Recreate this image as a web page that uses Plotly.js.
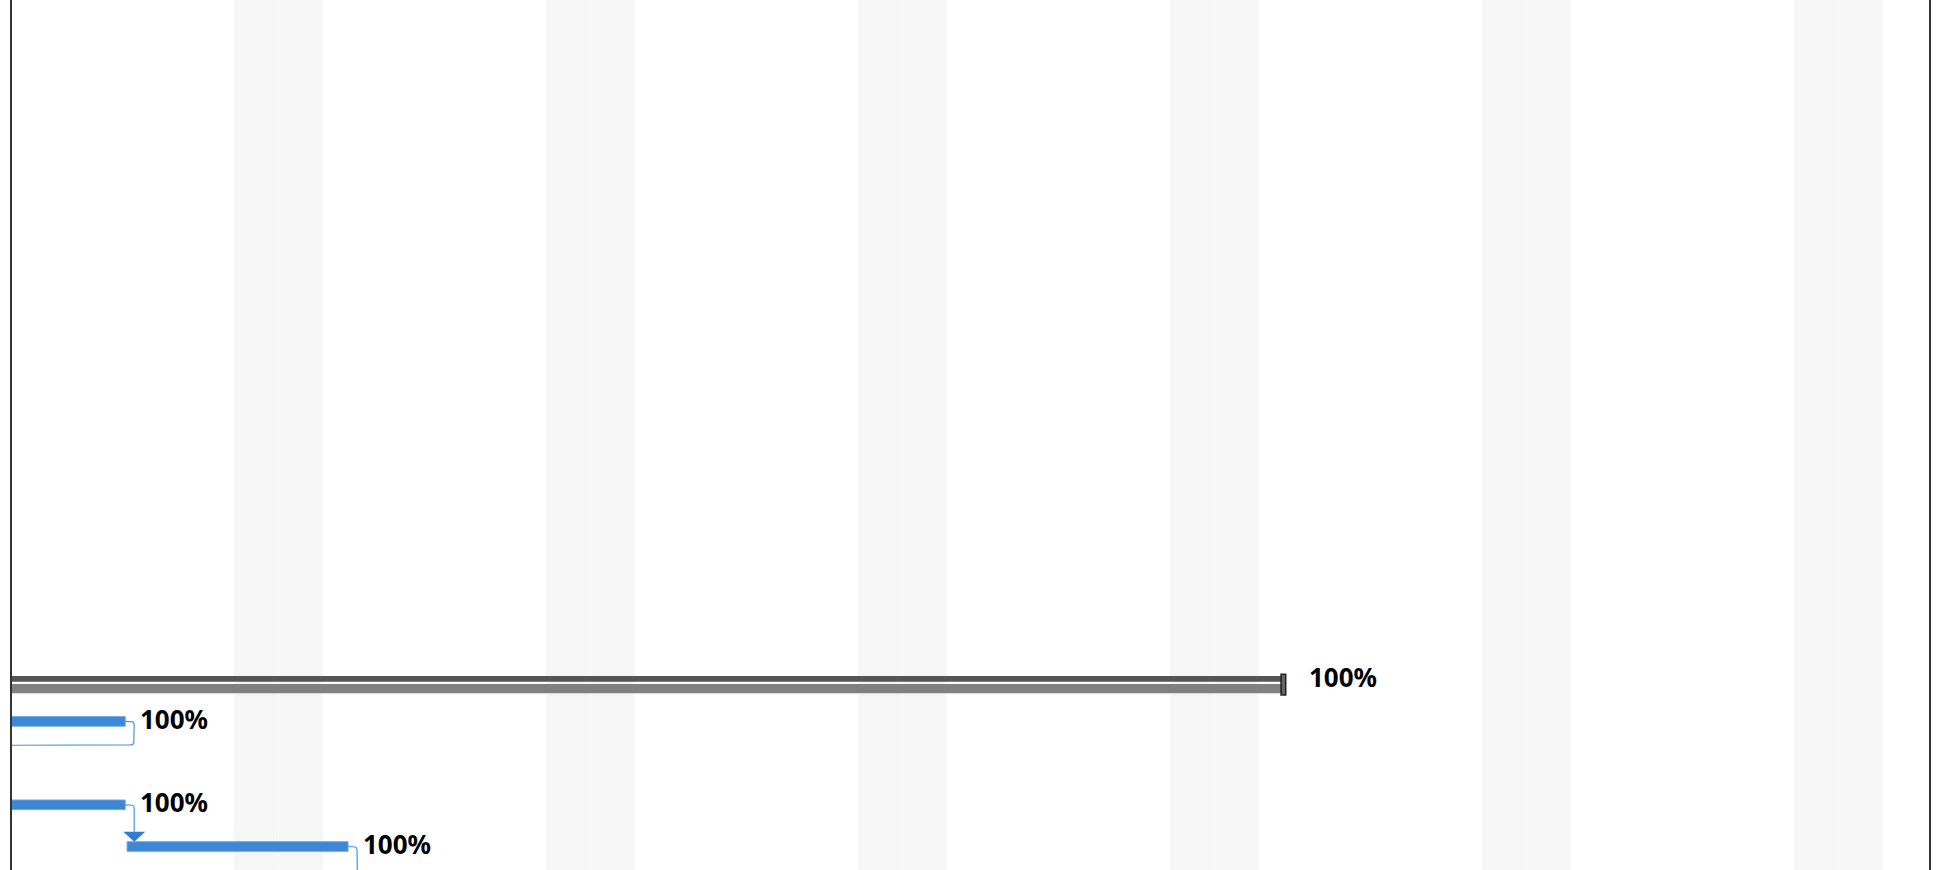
<!DOCTYPE html>
<html>
<head>
<meta charset="utf-8">
<script src="https://cdn.plot.ly/plotly-3.0.1.min.js"></script>
<style>
html,body{margin:0;padding:0;background:#fff;overflow:hidden;}
#chart{width:1950px;height:870px;}
</style>
</head>
<body>
<div id="chart"></div>
<script>
// ---------------- DATA ----------------
const summaryRows = [16];
const summaryStarts = ['2023-12-11 08:00'];
const summaryEnds = ['2024-01-29 13:30'];
const summaryProgress = [100];

const taskRows = [17, 18, 19, 20, 21];
const taskStarts = ['2023-12-27 13:30', '2023-12-21 08:00', '2023-12-27 13:30', '2024-01-03 14:30', '2024-01-09 08:00'];
const taskEnds = ['2024-01-03 13:30', '2023-12-29 17:00', '2024-01-03 13:30', '2024-01-08 13:30', '2024-01-12 17:00'];
const taskProgress = [100, 100, 100, 100, 0];
const links = [[0, 1], [2, 3], [3, 4]];

// ---------------- SCALES / STYLE ----------------
const MS_H = 3600e3, MS_D = 864e5;
const DAY_PX = 44.571, ROW_PX = 41.7;
const msPerPx = MS_D / DAY_PX, rowPerPx = 1 / ROW_PX;
const X_RANGE = ['2024-01-01 00:32:18', '2024-02-13 00:47:30'];
const Y_RANGE = [20.563, -0.300];
const TASK_OFF = -0.115, TASK_W = 0.23;
const BLUE = '#3c87d6', LINK = '#4a92e4', ARROW = '#2f7dd6';

const toMs = s => Date.parse(s.replace(' ', 'T') + (s.length === 16 ? ':00Z' : 'Z'));
const toStr = ms => new Date(ms).toISOString().replace('T', ' ').replace('Z', '');
const dur = (a, b) => a.map((s, i) => toMs(b[i]) - toMs(s));

const traces = [];

// summary bar: gray band + dark band + end cap
traces.push({
  type: 'bar', orientation: 'h', y: summaryRows, base: summaryStarts,
  x: dur(summaryStarts, summaryEnds), offset: 0.103, width: 0.223,
  marker: {color: '#808080', line: {width: 0}}, hoverinfo: 'skip'
});
traces.push({
  type: 'bar', orientation: 'h', y: summaryRows, base: summaryStarts,
  x: dur(summaryStarts, summaryEnds), offset: -0.089, width: 0.137,
  marker: {color: '#555555', line: {width: 0}}, hoverinfo: 'skip'
});
traces.push({
  type: 'bar', orientation: 'h', y: summaryRows,
  base: summaryEnds.map(s => toStr(toMs(s) - 1.6 * MS_H)),
  x: summaryEnds.map(() => 2.5 * MS_H), offset: -0.129, width: 0.496,
  marker: {color: '#666666', line: {width: 1.5, color: '#222222'}}, hoverinfo: 'skip'
});

// task bars
traces.push({
  type: 'bar', orientation: 'h', y: taskRows, base: taskStarts,
  x: dur(taskStarts, taskEnds), offset: TASK_OFF, width: TASK_W,
  marker: {color: BLUE, line: {width: 1, color: '#6aa5e6'}}, hoverinfo: 'skip'
});

// link connectors
function roundCorners(pts, r) {
  const P = pts.map(p => [p[0] / msPerPx, p[1] / rowPerPx]);
  const out = [P[0]];
  for (let i = 1; i < P.length - 1; i++) {
    const p0 = P[i - 1], p1 = P[i], p2 = P[i + 1];
    const l1 = Math.hypot(p1[0] - p0[0], p1[1] - p0[1]);
    const l2 = Math.hypot(p2[0] - p1[0], p2[1] - p1[1]);
    const rr = Math.min(r, l1 / 2, l2 / 2);
    if (rr <= 0) { out.push(p1); continue; }
    const a = [p1[0] - (p1[0] - p0[0]) / l1 * rr, p1[1] - (p1[1] - p0[1]) / l1 * rr];
    const b = [p1[0] + (p2[0] - p1[0]) / l2 * rr, p1[1] + (p2[1] - p1[1]) / l2 * rr];
    for (let k = 0; k <= 6; k++) {
      const t = k / 6, u = 1 - t;
      out.push([u * u * a[0] + 2 * u * t * p1[0] + t * t * b[0], u * u * a[1] + 2 * u * t * p1[1] + t * t * b[1]]);
    }
  }
  out.push(P[P.length - 1]);
  return out.map(p => [p[0] * msPerPx, p[1] * rowPerPx]);
}

const GAP = 9 * msPerPx;
links.forEach(([a, b]) => {
  const xe = toMs(taskEnds[a]), ra = taskRows[a];
  const xs = toMs(taskStarts[b]), xf = toMs(taskEnds[b]), rb = taskRows[b];
  const xc = xe + GAP;
  const pts = [[xe, ra], [xc, ra]];
  let arrow;
  const barTop = rb + TASK_OFF;
  if (xc >= xs && xc <= xf && rb > ra) {
    const h = 10 * rowPerPx;
    pts.push([xc, barTop - h]);
    arrow = [[xc - 11 * msPerPx, barTop - h], [xc + 11 * msPerPx, barTop - h], [xc, barTop]];
  } else {
    if (xs > xc) {
      pts.push([xc, rb]);
    } else {
      const yMid = ra + 23.5 * rowPerPx;
      const xb = xs - GAP;
      pts.push([xc, yMid], [xb, yMid], [xb, rb]);
    }
    pts.push([xs - 9 * msPerPx, rb]);
    arrow = [[xs - 9 * msPerPx, rb - 6 * rowPerPx], [xs - 9 * msPerPx, rb + 6 * rowPerPx], [xs, rb]];
  }
  const rp = roundCorners(pts, 4);
  traces.push({
    type: 'scatter', mode: 'lines', x: rp.map(p => toStr(p[0])), y: rp.map(p => p[1]),
    line: {color: LINK, width: 1.2}, hoverinfo: 'skip'
  });
  arrow.push(arrow[0]);
  traces.push({
    type: 'scatter', mode: 'lines', x: arrow.map(p => toStr(p[0])), y: arrow.map(p => p[1]),
    fill: 'toself', fillcolor: ARROW, line: {width: 0, color: ARROW}, hoverinfo: 'skip'
  });
});

// weekend stripes
const shapes = [];
const r0 = toMs(X_RANGE[0]), r1 = toMs(X_RANGE[1]);
for (let d = Date.UTC(2023, 11, 25); d < r1; d += MS_D) {
  const wd = new Date(d).getUTCDay();
  if (wd === 6 || wd === 0) {
    shapes.push({type: 'rect', layer: 'below', xref: 'x', yref: 'paper',
      x0: toStr(d), x1: toStr(d + MS_D), y0: 0, y1: 1, fillcolor: '#f6f6f6', line: {width: 0}});
  }
  if (wd === 0) {
    shapes.push({type: 'line', layer: 'below', xref: 'x', yref: 'paper',
      x0: toStr(d), x1: toStr(d), y0: 0, y1: 1, line: {color: '#ffffff', width: 1}});
  }
}

// progress labels
const annotations = [];
const labelFont = {family: 'Noto Sans, Open Sans, sans-serif', size: 26, color: '#000000'};
function addLabel(end, row, prog, xshift) {
  const e = toMs(end);
  if (e < r0 || e > r1 || row > Y_RANGE[0] || row < Y_RANGE[1]) return;
  annotations.push({x: end, y: row, xref: 'x', yref: 'y', text: '<b>' + prog + '%</b>',
    showarrow: false, xanchor: 'left', yanchor: 'middle', xshift: xshift, yshift: 2.5, font: labelFont});
}
summaryEnds.forEach((e, i) => addLabel(e, summaryRows[i], summaryProgress[i], 22.5));
taskEnds.forEach((e, i) => addLabel(e, taskRows[i], taskProgress[i], 12.5));

const layout = {
  width: 1950, height: 870,
  margin: {l: 12, r: 21, t: 0, b: 0, pad: 0},
  paper_bgcolor: '#ffffff', plot_bgcolor: '#ffffff',
  showlegend: false, barmode: 'overlay',
  xaxis: {type: 'date', range: X_RANGE, showgrid: false, zeroline: false,
    showticklabels: false, ticks: '', showline: false, fixedrange: true},
  yaxis: {range: Y_RANGE, showgrid: false, zeroline: false, showticklabels: false,
    ticks: '', showline: true, mirror: true, linewidth: 2, linecolor: '#333333', fixedrange: true},
  shapes: shapes, annotations: annotations
};

Plotly.newPlot('chart', traces, layout, {displayModeBar: false, staticPlot: true});
</script>
</body>
</html>
